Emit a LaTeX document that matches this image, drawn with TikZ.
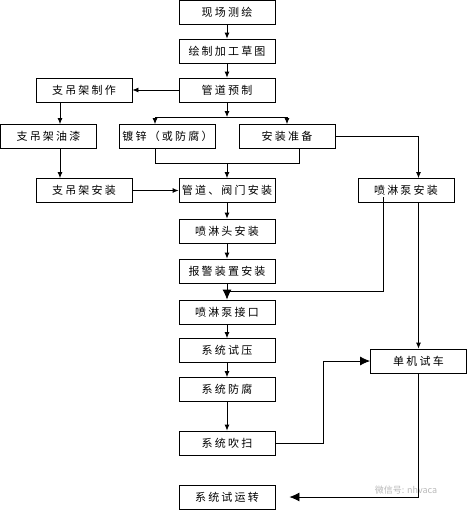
\documentclass[tikz,border=0pt]{standalone}
\usepackage{fontspec}
\newfontfamily\cjk[LetterSpace=20]{Noto Sans CJK SC}
\newfontfamily\cjkplain{Noto Sans CJK SC}
\usetikzlibrary{arrows.meta}

\begin{document}
\begin{tikzpicture}[x=1pt, y=-1pt, >={Latex[length=6pt,width=5pt]}, line width=0.8pt,
    % Stil für die Kästen (Arbeitsschritte)
        schritt/.style={rectangle, draw=black, fill=white, minimum width=96pt, minimum height=24pt, inner sep=0pt, font=\cjk\fontsize{11}{13}\selectfont},
    % Stile für die Pfeile
        fluss/.style={->, draw=black},
        grossfluss/.style={-{Latex[length=10pt,width=9pt]}, draw=black}]

        \useasboundingbox (0,0) rectangle (470,512);

        % Knoten für die Arbeitsschritte
        \node[schritt] (xcch) at (227,12) {现场测绘};
        \node[schritt] (hzct) at (227,51) {绘制加工草图};
        \node[schritt] (gdyz) at (227,90) {管道预制};
        \node[schritt] (zdjzz) at (84,90) {支吊架制作};
        \node[schritt] (zdjyq) at (48.5,136.5) {支吊架油漆};
        \node[schritt] (dx) at (167.5,136.5) {镀锌（或防腐）};
        \node[schritt] (azzb) at (287,136.5) {安装准备};
        \node[schritt] (zdjaz) at (84,190.5) {支吊架安装};
        \node[schritt] (gdaz) at (227,190.5) {管道、阀门安装};
        \node[schritt] (plbaz) at (406,190.5) {喷淋泵安装};
        \node[schritt] (pltaz) at (227,231) {喷淋头安装};
        \node[schritt] (bjaz) at (227,271) {报警装置安装};
        \node[schritt] (plbjk) at (227,312) {喷淋泵接口};
        \node[schritt] (xtsy) at (227,350.5) {系统试压};
        \node[schritt] (xtff) at (227,389.5) {系统防腐};
        \node[schritt] (xtcs) at (227,443) {系统吹扫};
        \node[schritt] (xtsyz) at (227,497) {系统试运转};
        \node[schritt] (djsc) at (418.5,361) {单机试车};
        \node[text=gray!55, font=\cjkplain\fontsize{9}{10}\selectfont] (wz) at (406,490) {微信号: nhvaca};

        % Hilfspunkte für Verzweigungen
        \coordinate (sx) at (60,0);
        \coordinate (fm) at (227,117);
        \coordinate (fl) at (155,117);
        \coordinate (fr) at (287,117);
        \coordinate (ml) at (155,163);
        \coordinate (mr) at (299,163);
        \coordinate (pa) at (383,197);
        \coordinate (pk) at (227,291);

        % Kanten zeichnen
        \draw[fluss] (xcch) -- (hzct);
        \draw[fluss] (hzct) -- (gdyz);
        \draw[fluss] (gdyz) -- (zdjzz);
        \draw[fluss] (gdyz) -- (fm);
        \draw (fl) -- (fr);
        \draw[fluss] (fl) -- (fl |- dx.north);
        \draw[fluss] (fr) -- (azzb);
        \draw (ml |- dx.south) -- (ml) -- (mr) -- (mr |- azzb.south);
        \draw[fluss] (gdyz.south |- ml) -- (gdaz);
        \draw[fluss] (azzb.east) -| (djsc.north |- plbaz.north);
        \draw[fluss] (zdjzz.south -| sx) -- (zdjyq.north -| sx);
        \draw[fluss] (zdjyq.south -| sx) -- (zdjaz.north -| sx);
        \draw[fluss] (zdjaz) -- (gdaz);
        \draw[fluss] (gdaz) -- (pltaz);
        \draw[fluss] (pltaz) -- (bjaz);
        \draw (pa) |- (pk);
        \draw[grossfluss] (bjaz) -- (plbjk);
        \draw[fluss] (plbjk) -- (xtsy);
        \draw[fluss] (xtsy) -- (xtff);
        \draw[fluss] (xtff) -- (xtcs);
        \draw[fluss] (plbaz.south -| djsc) -- (djsc);
        \draw[grossfluss] (xtcs.east) -- ++(48,0) |- (djsc.west);
        \draw[grossfluss] (djsc.south) |- ([xshift=14pt]xtsyz.east);
    \end{tikzpicture}
\end{document}
